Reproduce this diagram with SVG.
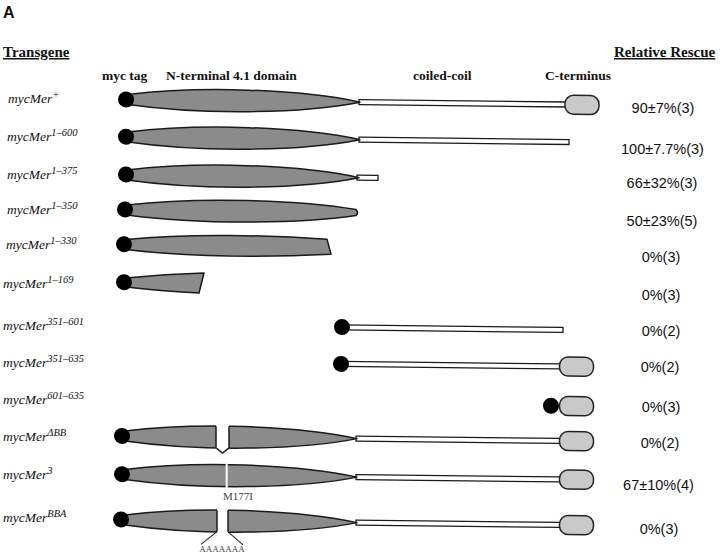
<svg xmlns="http://www.w3.org/2000/svg" xmlns:xlink="http://www.w3.org/1999/xlink" width="720" height="555" viewBox="0 0 720 555">
<style>
.lbl{font-family:"Liberation Serif",serif;font-style:italic;font-size:13.5px;fill:#111}
.sup{font-size:10.5px}
.hdr{font-family:"Liberation Serif",serif;font-weight:bold;font-size:13.5px;fill:#111}
.ttl{font-family:"Liberation Serif",serif;font-weight:bold;font-size:15px;fill:#111;text-decoration:underline}
.num{font-family:"Liberation Sans",sans-serif;font-size:14.5px;fill:#111;text-anchor:middle}
.lens{fill:#8b8b8b;stroke:#1a1a1a;stroke-width:1.5;stroke-linejoin:round}
.rod{fill:#fff;stroke:#1a1a1a;stroke-width:1.3}
.ct{fill:#c9c9c9;stroke:#222;stroke-width:1.5}
.dot{fill:#000}
.edge{stroke:#1a1a1a;stroke-width:1.5;fill:none}
.thin{stroke:#222;stroke-width:1;fill:none}
.small{font-family:"Liberation Serif",serif;fill:#444}
</style>
<defs>
<path id="lens" d="M0,-5 C72,-14.5 172,-12.5 232,0 C172,12.5 72,14.5 0,5 Z"/>
<clipPath id="cut10"><rect x="0" y="400" width="216" height="80"/><rect x="229" y="400" width="400" height="80"/></clipPath>
<clipPath id="cut12"><rect x="0" y="490" width="217" height="60"/><rect x="228" y="490" width="400" height="60"/></clipPath>
</defs>
<rect width="720" height="555" fill="#fff"/>
<g id="headers">
<text x="3" y="18" font-family="Liberation Sans,sans-serif" font-weight="bold" font-size="16" fill="#111">A</text>
<text class="ttl" x="3" y="57">Transgene</text>
<text class="ttl" x="614" y="57">Relative Rescue</text>
<text class="hdr" x="102" y="80">myc tag</text>
<text class="hdr" x="166" y="80">N-terminal 4.1 domain</text>
<text class="hdr" x="413" y="80">coiled-coil</text>
<text class="hdr" x="545" y="80">C-terminus</text>
</g>
<g id="connectors"></g>
<g id="constructs" transform="matrix(1 0.01134 0 1 0 -1.43)">
<g id="row1">
<rect class="rod" x="359" y="97" width="207" height="5"/>
<use href="#lens" class="lens" x="128" y="99.5"/>
<rect class="ct" x="565" y="90.3" width="34" height="19" rx="8.5"/>
<circle class="dot" cx="126" cy="99.5" r="8"/>
</g>
<g id="row2">
<rect class="rod" x="359" y="134.5" width="210" height="5"/>
<use href="#lens" class="lens" x="128" y="137"/>
<circle class="dot" cx="126" cy="136.7" r="8"/>
</g>
<g id="row3">
<rect class="rod" x="357" y="172.5" width="21" height="5"/>
<use href="#lens" class="lens" x="127" y="175"/>
<circle class="dot" cx="126" cy="174.5" r="8"/>
</g>
<g id="row4">
<path class="lens" d="M127,205 C199,196 299,198 356,207 Q359,210 356,213 C299,222 199,224 127,215 Z"/>
<circle class="dot" cx="125" cy="209.5" r="8"/>
</g>
<g id="row5">
<path class="lens" d="M126,239.5 C190,232.5 270,233.5 327,237 L331,252 C270,255.5 190,256.5 126,249.5 Z"/>
<circle class="dot" cx="124" cy="244.3" r="8"/>
</g>
<g id="row6">
<path class="lens" d="M126,278 Q165,273.5 204,272.1 L199,292.2 Q165,291 126,287 Z"/>
<circle class="dot" cx="124" cy="282.3" r="8"/>
</g>
<g id="row7">
<rect class="rod" x="342" y="322.5" width="221" height="5"/>
<circle class="dot" cx="342" cy="324.6" r="8"/>
</g>
<g id="row8">
<rect class="rod" x="341" y="359" width="220" height="5"/>
<rect class="ct" x="559.5" y="352" width="34" height="19" rx="8.5"/>
<circle class="dot" cx="341" cy="361.5" r="8"/>
</g>
<g id="row9">
<rect class="ct" x="559.5" y="391.5" width="34" height="19" rx="8.5"/>
<circle class="dot" cx="551" cy="401" r="8"/>
</g>
<g id="row10">
<rect class="rod" x="356" y="433.5" width="205" height="5"/>
<g clip-path="url(#cut10)"><use href="#lens" class="lens" x="125" y="436"/></g>
<line class="edge" x1="216" y1="425.3" x2="216" y2="446.7"/>
<line class="edge" x1="229" y1="425.3" x2="229" y2="446.7"/>
<polyline class="edge" points="216,446.7 222.5,452 229,446.7"/>
<rect class="ct" x="559.5" y="426.5" width="34" height="19" rx="8.5"/>
<circle class="dot" cx="122" cy="436" r="8"/>
</g>
<g id="row11">
<rect class="rod" x="356" y="472" width="205" height="5"/>
<use href="#lens" class="lens" x="125" y="474.5"/>
<line x1="226.7" y1="462" x2="226.7" y2="487" stroke="#fff" stroke-width="2"/>
<rect class="ct" x="559.5" y="465" width="34" height="19" rx="8.5"/>
<circle class="dot" cx="122" cy="474.3" r="8"/>
</g>
<g id="row12">
<rect class="rod" x="356" y="517.5" width="205" height="5"/>
<g clip-path="url(#cut12)"><use href="#lens" class="lens" x="125" y="520"/></g>
<line class="edge" x1="217" y1="509.3" x2="217" y2="530.7"/>
<line class="edge" x1="228" y1="509.3" x2="228" y2="530.7"/>
<line class="thin" x1="217" y1="530.7" x2="201" y2="543.5"/>
<line class="thin" x1="228" y1="530.7" x2="243" y2="543.5"/>
<rect class="ct" x="559.5" y="510.5" width="34" height="19" rx="8.5"/>
<circle class="dot" cx="121" cy="519.5" r="8"/>
</g>
</g>
<g id="labels">
<text class="lbl" x="8" y="103">mycMer<tspan class="sup" dy="-5">+</tspan></text>
<text class="lbl" x="7" y="141">mycMer<tspan class="sup" dy="-5">1–600</tspan></text>
<text class="lbl" x="7" y="179">mycMer<tspan class="sup" dy="-5">1–375</tspan></text>
<text class="lbl" x="7" y="214">mycMer<tspan class="sup" dy="-5">1–350</tspan></text>
<text class="lbl" x="6" y="249">mycMer<tspan class="sup" dy="-5">1–330</tspan></text>
<text class="lbl" x="3" y="288">mycMer<tspan class="sup" dy="-5">1–169</tspan></text>
<text class="lbl" x="3" y="330">mycMer<tspan class="sup" dy="-5">351–601</tspan></text>
<text class="lbl" x="3" y="367">mycMer<tspan class="sup" dy="-5">351–635</tspan></text>
<text class="lbl" x="3" y="404">mycMer<tspan class="sup" dy="-5">601–635</tspan></text>
<text class="lbl" x="3" y="441">mycMer<tspan class="sup" dy="-5">ΔBB</tspan></text>
<text class="lbl" x="3" y="479">mycMer<tspan class="sup" dy="-5">3</tspan></text>
<text class="lbl" x="3" y="522">mycMer<tspan class="sup" dy="-5">BBA</tspan></text>
<text class="small" x="223" y="500" font-size="11">M177I</text>
<text class="small" x="222" y="552" font-size="9" text-anchor="middle">AAAAAAA</text>
</g>
<g id="rescue">
<text class="num" x="663" y="112.5">90±7%(3)</text>
<text class="num" x="662.5" y="154">100±7.7%(3)</text>
<text class="num" x="662" y="188">66±32%(3)</text>
<text class="num" x="662" y="226">50±23%(5)</text>
<text class="num" x="661" y="262">0%(3)</text>
<text class="num" x="661" y="299.5">0%(3)</text>
<text class="num" x="661" y="336">0%(2)</text>
<text class="num" x="660" y="371.5">0%(2)</text>
<text class="num" x="661" y="412">0%(3)</text>
<text class="num" x="660" y="447.5">0%(2)</text>
<text class="num" x="658.5" y="489.5">67±10%(4)</text>
<text class="num" x="659" y="533.5">0%(3)</text>
</g>
</svg>
